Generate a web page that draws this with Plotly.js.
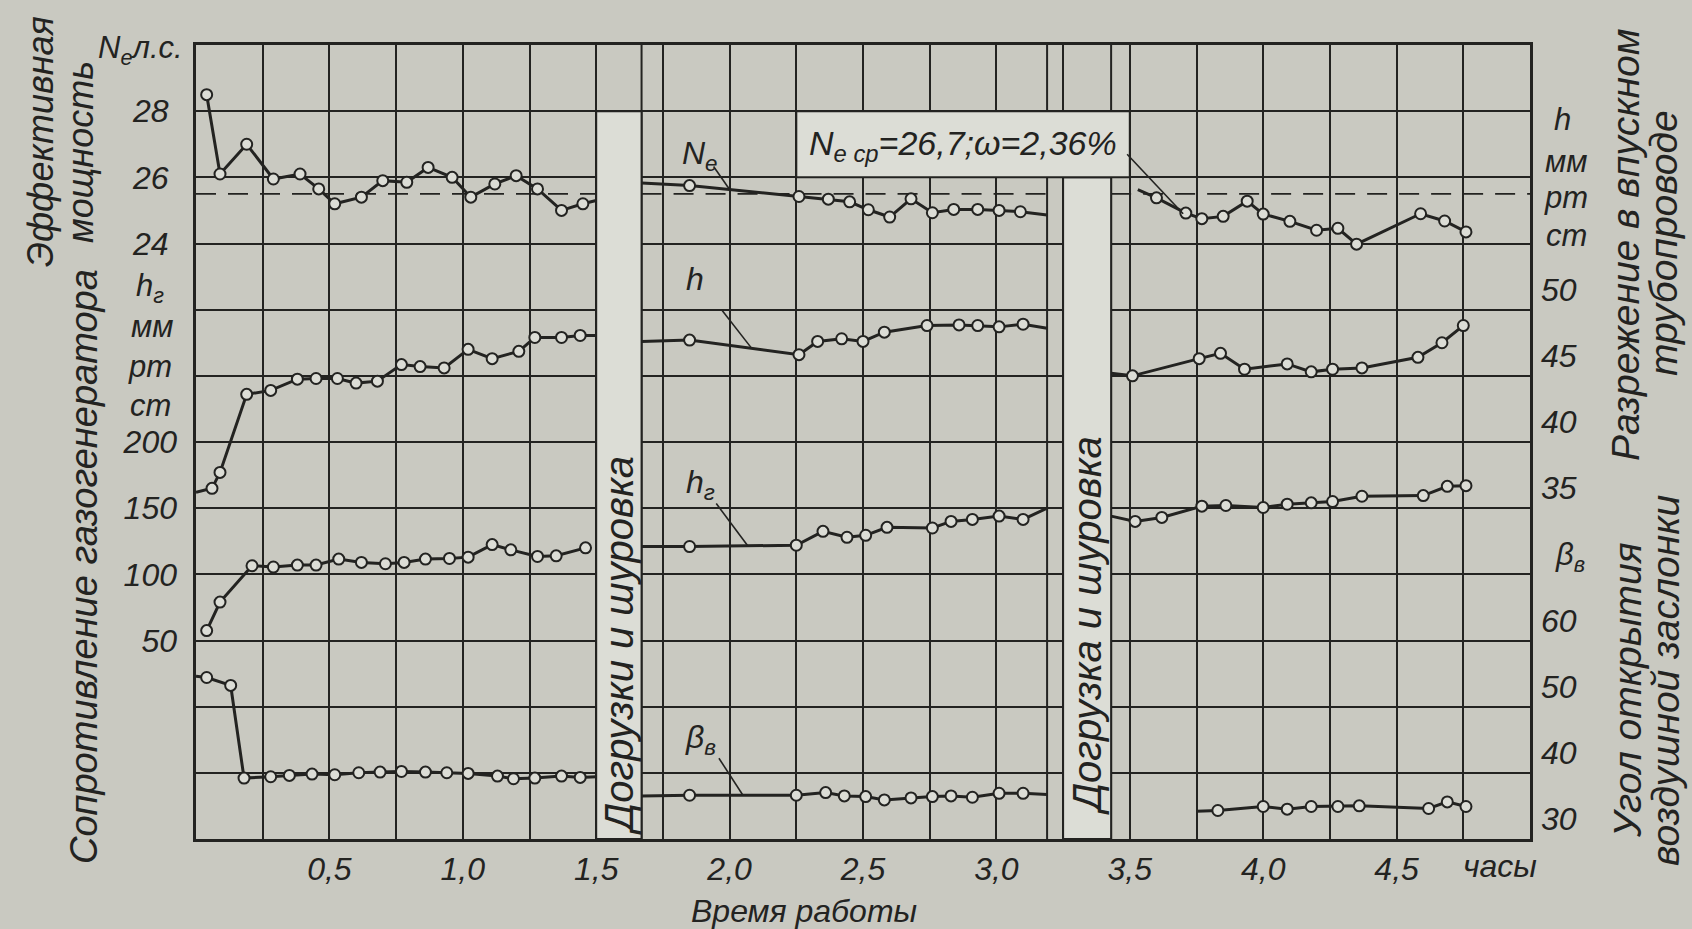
<!DOCTYPE html>
<html><head><meta charset="utf-8">
<script src="https://cdn.plot.ly/plotly-3.0.1.min.js"></script>
<style>html,body{margin:0;padding:0;background:#c9c9c1;}#chart{width:1692px;height:929px;}</style>
</head><body><div id="chart"></div>
<script>
// ---------- data (time in hours) ----------
const neT = [0.04,0.09,0.19,0.29,0.39,0.46,0.52,0.62,0.70,0.79,0.87,0.96,1.03,1.12,1.20,1.28,1.37,1.45,1.5, null,
             1.67,1.85,2.26,2.37,2.45,2.52,2.60,2.68,2.76,2.84,2.93,3.01,3.09,3.19, null,
             3.53,3.60,3.71,3.77,3.85,3.94,4.00,4.10,4.20,4.28,4.35,4.59,4.68,4.76];
const neV = [28.5,26.1,27.0,25.95,26.1,25.65,25.2,25.4,25.9,25.85,26.3,26.0,25.4,25.8,26.05,25.65,25.0,25.2,25.3, null,
             25.83,25.75,25.42,25.34,25.26,25.02,24.8,25.35,24.93,25.03,25.03,25.0,24.96,24.86, null,
             25.63,25.38,24.92,24.75,24.82,25.28,24.89,24.67,24.4,24.46,23.98,24.9,24.68,24.35];
const neMean = 25.5;

const hT = [0,0.06,0.09,0.19,0.28,0.38,0.45,0.53,0.60,0.68,0.77,0.84,0.93,1.02,1.11,1.21,1.27,1.37,1.44,1.5, null,
            1.67,1.85,2.26,2.33,2.42,2.50,2.58,2.74,2.86,2.93,3.01,3.10,3.19, null,
            3.43,3.51,3.76,3.84,3.93,4.09,4.18,4.26,4.37,4.58,4.67,4.75];
const hV = [36.2,36.5,37.7,43.6,43.9,44.75,44.8,44.8,44.45,44.6,45.85,45.7,45.6,47.0,46.3,46.85,47.9,47.9,48.05,48.05, null,
            47.6,47.7,46.6,47.6,47.8,47.6,48.3,48.8,48.85,48.8,48.7,48.9,48.6, null,
            45.2,45.0,46.3,46.7,45.5,45.9,45.3,45.5,45.6,46.4,47.5,48.8];

const hgT = [0.04,0.09,0.21,0.29,0.38,0.45,0.535,0.62,0.71,0.78,0.86,0.95,1.02,1.11,1.18,1.28,1.35,1.46, null,
             1.67,1.85,2.25,2.35,2.44,2.51,2.59,2.76,2.83,2.91,3.01,3.10,3.19, null,
             3.43,3.52,3.62,3.77,3.86,4.00,4.09,4.18,4.26,4.37,4.60,4.69,4.76];
const hgV = [57.5,79,106.5,105.5,107,107,111.5,109,108,109,111.5,112,113,122.5,118.5,113.5,114,120, null,
             121,121,122,132.5,128,129.5,135.5,135,140,141.5,144,141.5,150, null,
             144,140,143,151.5,152,150.5,153,154,155,159,159.5,166.5,167];

const bT = [0,0.04,0.13,0.18,0.28,0.35,0.435,0.52,0.61,0.69,0.77,0.86,0.94,1.02,1.13,1.19,1.27,1.37,1.44,1.5, null,
            1.67,1.85,2.25,2.36,2.43,2.51,2.58,2.68,2.76,2.83,2.91,3.01,3.10,3.19, null,
            3.75,3.83,4.00,4.09,4.18,4.28,4.36,4.62,4.69,4.76];
const bV = [54.6,54.4,53.2,39.2,39.4,39.6,39.8,39.7,40.0,40.1,40.2,40.1,40.0,39.9,39.5,39.1,39.2,39.5,39.3,39.4, null,
            36.5,36.6,36.6,37.0,36.5,36.4,35.9,36.2,36.4,36.5,36.3,36.9,36.9,36.7, null,
            34.2,34.3,34.9,34.5,34.9,34.9,35.0,34.6,35.6,34.9];

// times where a curve starts/ends without a reading
const lineEnds = [0, 1.5, 1.67, 3.19, 3.43, 3.53, 3.75];
// working segments and loading / poking intervals
const segments = [[0, 1.5], [1.67, 3.19], [3.43, 5.0]];
const loadBands = [[1.5, 1.67], [3.25, 3.43]];
const loadBandTop = [28, 26];
const extraLines = [1.67, 3.19, 3.43];

// ticks
const timeTicks = [0.25,0.5,0.75,1,1.25,1.5,1.75,2,2.25,2.5,2.75,3,3.25,3.5,3.75,4,4.25,4.5,4.75];
const timeLabels = ['','0,5','','1,0','','1,5','','2,0','','2,5','','3,0','','3,5','','4,0','','4,5',''];
const neTicks = [8,10,12,14,16,18,20,22,24,26,28];
const neLabels = ['','','','','','','','','24','26','28'];
const hgTicks = [50,100,150,200];
const hgLabels = ['50','100','150','200'];
const hTicks = [35,40,45,50];
const hLabels = ['35','40','45','50'];
const bTicks = [30,40,50,60];
const bLabels = ['30','40','50','60'];

// ---------- styling ----------
const ink = '#232321';
const bg = '#c9c9c1';
const light = '#dcddd6';
const FONT = 'Liberation Sans, Arial, sans-serif';

const W = 1692, H = 929, ML = 196, MR = 162, MT = 45, MB = 90;
const PW = W - ML - MR, PH = H - MT - MB;
const px = x => (x - ML) / PW;
const py = y => (H - MB - y) / PH;

const msize = ts => ts.map(t => (t === null || lineEnds.includes(t)) ? 0 : 11);
const mop = ts => ts.map(t => (t === null || lineEnds.includes(t)) ? 0 : 1);

function series(t, v, yax) {
  return {
    x: t, y: v, yaxis: yax, type: 'scatter', mode: 'lines+markers',
    line: {color: ink, width: 3},
    marker: {size: msize(t), opacity: mop(t), color: light, line: {color: ink, width: 2}},
    hoverinfo: 'skip', cliponaxis: false
  };
}

const meanT = [], meanV = [];
segments.forEach((s, i) => {
  if (i) { meanT.push(null); meanV.push(null); }
  meanT.push(s[0], s[1]); meanV.push(neMean, neMean);
});

const traces = [
  {x: meanT, y: meanV, yaxis: 'y', type: 'scatter', mode: 'lines',
   line: {color: ink, width: 1.8, dash: '20px,12px'}, hoverinfo: 'skip'},
  series(neT, neV, 'y'),
  series(hgT, hgV, 'y2'),
  series(hT, hV, 'y3'),
  series(bT, bV, 'y4')
];

const shapes = [];
extraLines.forEach(x => shapes.push({type: 'line', xref: 'x', yref: 'paper', x0: x, x1: x, y0: 0, y1: 1,
  line: {color: ink, width: 2}, layer: 'between'}));
loadBands.forEach((b, i) => shapes.push({type: 'rect', xref: 'x', yref: 'y', x0: b[0], x1: b[1], y0: 6, y1: loadBandTop[i],
  fillcolor: light, line: {color: ink, width: 2}, layer: 'between'}));
shapes.push({type: 'rect', xref: 'x', yref: 'y', x0: 2.25, x1: 3.5, y0: 26, y1: 28,
  fillcolor: light, line: {color: ink, width: 2}, layer: 'between'});
const leader = (yref, x0, y0, x1, y1) => ({type: 'line', xref: 'x', yref, x0, y0, x1, y1, line: {color: ink, width: 1.6}});
shapes.push(leader('y', 1.94, 26.33, 2.0, 25.63));
shapes.push(leader('y3', 1.97, 50.0, 2.08, 47.15));
shapes.push(leader('y2', 1.95, 153.5, 2.07, 121));
shapes.push(leader('y4', 1.96, 42.2, 2.05, 36.6));
shapes.push(leader('y', 3.49, 26.7, 3.70, 24.9));

const P = (text, x, y, o) => Object.assign({text, x: px(x), y: py(y), xref: 'paper', yref: 'paper',
  showarrow: false, xanchor: 'center', yanchor: 'middle'}, o || {});
const rot = (size) => ({textangle: -90, font: {size: size}});
const D = (text, x, y, yref, size) => ({text, x, y, xref: 'x', yref, showarrow: false,
  xanchor: 'center', yanchor: 'middle', font: {size}});

const annotations = [
  P('Эффективная', 40, 142, rot(36)),
  P('мощность', 80, 152, rot(36)),
  P('Сопротивление газогенератора', 84, 567, rot(38)),
  P('N<sub>e</sub>л.с.', 140, 50, {font: {size: 31}}),
  P('h<sub>г</sub>', 150, 288, {font: {size: 31}}),
  P('мм', 152, 326, {font: {size: 31}}),
  P('рт', 150, 366, {font: {size: 31}}),
  P('ст', 150, 405, {font: {size: 31}}),
  P('h', 1562, 120, {font: {size: 31}}),
  P('мм', 1566, 162, {font: {size: 31}}),
  P('рт', 1566, 197, {font: {size: 31}}),
  P('ст', 1566, 236, {font: {size: 31}}),
  P('β<sub>в</sub>', 1570, 557, {font: {size: 31}}),
  P('Разрежение в впускном', 1625, 245, rot(39)),
  P('трубопроводе', 1663, 243, rot(39)),
  P('Угол открытия', 1627, 690, rot(39)),
  P('воздушной заслонки', 1665, 680, rot(39)),
  P('Время работы', 804, 911, {font: {size: 32}}),
  P('часы', 1500, 866, {font: {size: 32}}),
  {text: 'Догрузки и шуровка', x: 1.585, y: py(645), xref: 'x', yref: 'paper', showarrow: false,
   xanchor: 'center', yanchor: 'middle', textangle: -90, font: {size: 40}},
  {text: 'Догрузка и шуровка', x: 3.34, y: py(626), xref: 'x', yref: 'paper', showarrow: false,
   xanchor: 'center', yanchor: 'middle', textangle: -90, font: {size: 40}},
  D('N<sub>e</sub>', 1.89, 26.66, 'y', 32),
  D('h', 1.87, 52.3, 'y3', 32),
  D('h<sub>г</sub>', 1.89, 168, 'y2', 32),
  D('β<sub>в</sub>', 1.89, 45.1, 'y4', 32),
  D('N<sub>e ср</sub>=26,7;ω=2,36%', 2.875, 26.95, 'y', 34)
];

const yBase = {showgrid: false, zeroline: false, showline: false, ticks: '', fixedrange: true,
  tickfont: {size: 32}, tickmode: 'array'};

const layout = {
  width: W, height: H,
  paper_bgcolor: bg, plot_bgcolor: bg,
  margin: {l: ML, r: MR, t: MT, b: MB, pad: 0},
  font: {family: FONT, size: 32, color: ink, style: 'italic'},
  showlegend: false,
  xaxis: {range: [0, 5], tickmode: 'array', tickvals: timeTicks, ticktext: timeLabels,
    showgrid: true, gridcolor: ink, gridwidth: 2, zeroline: false,
    showline: true, mirror: true, linecolor: ink, linewidth: 3, ticks: '', tickfont: {size: 32}},
  yaxis: Object.assign({}, yBase, {range: [6, 30], tickvals: neTicks, ticktext: neLabels,
    showgrid: true, gridcolor: ink, gridwidth: 2, showline: true, mirror: true, linecolor: ink, linewidth: 3,
    ticklabelstandoff: 18}),
  yaxis2: Object.assign({}, yBase, {range: [-100, 500], tickvals: hgTicks, ticktext: hgLabels,
    overlaying: 'y', side: 'left', anchor: 'x', ticklabelstandoff: 18}),
  yaxis3: Object.assign({}, yBase, {range: [10, 70], tickvals: hTicks, ticktext: hLabels,
    overlaying: 'y', side: 'right', anchor: 'x', ticklabelstandoff: 10, ticklabelshift: -20}),
  yaxis4: Object.assign({}, yBase, {range: [29.99, 150], tickvals: bTicks, ticktext: bLabels,
    overlaying: 'y', side: 'right', anchor: 'x', ticklabelstandoff: 10, ticklabelshift: -20}),
  shapes: shapes,
  annotations: annotations
};

Plotly.newPlot('chart', traces, layout, {staticPlot: true, displayModeBar: false});
</script>
</body></html>
